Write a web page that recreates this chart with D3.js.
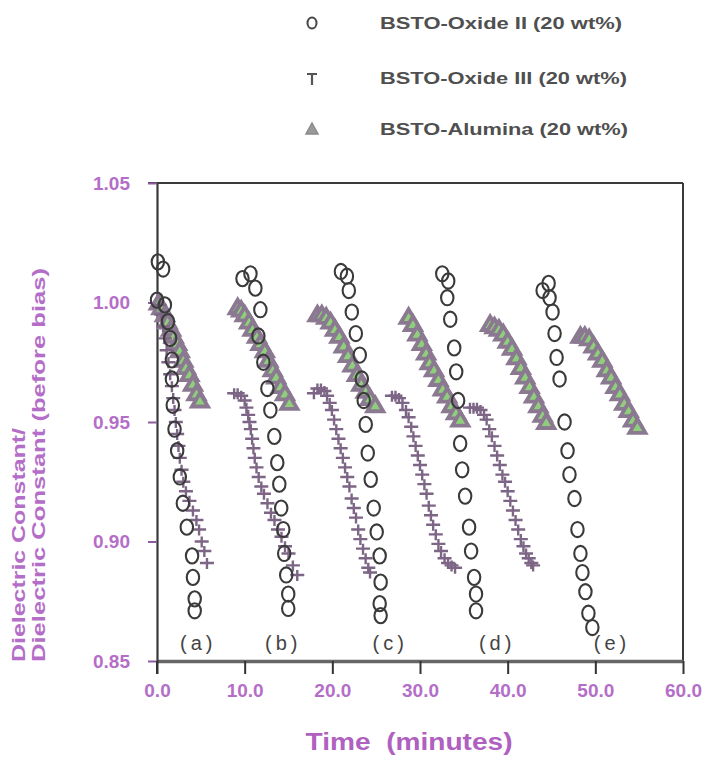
<!DOCTYPE html>
<html>
<head>
<meta charset="utf-8">
<script src="https://cdn.jsdelivr.net/npm/d3@7"></script>
<style>
	html, body { margin: 0; padding: 0; background: #fff; }
	svg { display: block; font-family: "Liberation Sans", Arial, sans-serif; }
</style>
</head>
<body>
<svg id="chart" width="705" height="758"></svg>
<script>
// [time (min), dielectric constant / dielectric constant before bias], one list per run
var oxideIIRuns = [
	[[0.1,1.017],[0.7,1.014],[0.0,1.001],[0.9,0.999],[1.25,0.992],[1.5,0.985],[1.7,0.976],[1.7,0.968],[1.8,0.957],[2.0,0.947],[2.3,0.938],[2.6,0.927],[2.95,0.916],[3.4,0.906],[4.0,0.894],[4.1,0.885],[4.3,0.876],[4.3,0.871]],
	[[9.75,1.010],[10.66,1.012],[11.22,1.006],[11.79,0.997],[11.56,0.986],[12.13,0.975],[12.59,0.964],[12.93,0.955],[13.38,0.944],[13.72,0.933],[13.95,0.924],[14.17,0.914],[14.4,0.905],[14.51,0.895],[14.74,0.886],[14.97,0.878],[14.97,0.872]],
	[[20.98,1.013],[21.66,1.011],[21.88,1.005],[22.22,0.996],[22.68,0.987],[23.13,0.978],[23.36,0.968],[23.58,0.959],[23.81,0.949],[24.04,0.937],[24.38,0.926],[24.72,0.914],[25.06,0.904],[25.4,0.894],[25.51,0.883],[25.4,0.874],[25.51,0.869]],
	[[32.54,1.012],[33.22,1.009],[33.11,1.002],[33.45,0.993],[33.9,0.981],[34.13,0.971],[34.35,0.959],[34.58,0.941],[34.81,0.930],[35.15,0.919],[35.6,0.906],[35.83,0.896],[36.17,0.885],[36.39,0.878],[36.39,0.871]],
	[[43.99,1.005],[44.67,1.008],[44.78,1.002],[45.12,0.996],[45.35,0.987],[45.58,0.977],[45.92,0.968],[46.49,0.950],[46.83,0.938],[47.05,0.928],[47.62,0.918],[47.96,0.905],[48.3,0.895],[48.53,0.887],[48.87,0.879],[49.21,0.870],[49.66,0.864]]
];

var oxideIIIRuns = [
	[[0.3,0.999],[0.5,0.995],[0.7,0.990],[0.9,0.985],[1.1,0.980],[1.3,0.975],[1.5,0.970],[1.7,0.965],[1.85,0.960],[2.0,0.955],[2.15,0.950],[2.3,0.945],[2.45,0.940],[2.6,0.935],[2.8,0.930],[3.0,0.925],[3.3,0.921],[3.7,0.917],[4.1,0.913],[4.5,0.909],[4.8,0.905],[5.1,0.900],[5.4,0.896],[5.7,0.891]],
	[[8.8,0.962],[9.2,0.962],[9.6,0.961],[10.0,0.959],[10.2,0.956],[10.4,0.953],[10.55,0.950],[10.7,0.947],[10.85,0.943],[11.0,0.939],[11.15,0.935],[11.35,0.931],[11.6,0.927],[11.9,0.923],[12.2,0.920],[12.6,0.916],[13.0,0.912],[13.4,0.909],[13.8,0.905],[14.2,0.902],[14.6,0.898],[15.0,0.895],[15.5,0.890],[16.0,0.886]],
	[[17.9,0.962],[18.3,0.964],[18.7,0.964],[19.1,0.963],[19.4,0.961],[19.7,0.958],[19.95,0.955],[20.2,0.951],[20.45,0.947],[20.7,0.943],[20.95,0.939],[21.2,0.935],[21.45,0.931],[21.7,0.927],[21.95,0.923],[22.2,0.918],[22.45,0.914],[22.7,0.910],[22.95,0.905],[23.2,0.901],[23.5,0.897],[23.8,0.893],[24.1,0.889],[24.3,0.887]],
	[[26.8,0.961],[27.2,0.961],[27.6,0.960],[28.0,0.958],[28.4,0.955],[28.7,0.952],[29.0,0.948],[29.25,0.944],[29.5,0.940],[29.75,0.936],[30.0,0.932],[30.25,0.928],[30.5,0.924],[30.75,0.920],[31.0,0.915],[31.25,0.911],[31.5,0.907],[31.8,0.903],[32.1,0.899],[32.4,0.896],[32.8,0.893],[33.2,0.891],[33.6,0.890],[34.0,0.889]],
	[[35.7,0.956],[36.1,0.956],[36.5,0.956],[36.9,0.955],[37.3,0.953],[37.6,0.951],[37.9,0.947],[38.2,0.944],[38.5,0.940],[38.8,0.936],[39.1,0.932],[39.4,0.928],[39.7,0.925],[40.0,0.921],[40.3,0.917],[40.6,0.913],[40.9,0.909],[41.2,0.905],[41.5,0.901],[41.8,0.898],[42.1,0.895],[42.4,0.893],[42.7,0.891],[42.9,0.890]]
];

var aluminaRuns = [
	[[0.2,1.000],[0.5,0.998],[0.9,0.995],[1.2,0.992],[1.6,0.989],[1.9,0.986],[2.3,0.983],[2.6,0.980],[3.0,0.976],[3.3,0.973],[3.7,0.970],[4.1,0.966],[4.5,0.962],[4.9,0.959]],
	[[9.2,0.998],[9.6,0.997],[10.0,0.995],[10.5,0.992],[10.9,0.989],[11.4,0.986],[11.8,0.983],[12.3,0.980],[12.7,0.976],[13.2,0.972],[13.6,0.969],[14.1,0.965],[14.6,0.962],[15.1,0.958]],
	[[18.3,0.995],[18.8,0.995],[19.3,0.994],[19.8,0.992],[20.3,0.989],[20.8,0.986],[21.3,0.982],[21.8,0.978],[22.3,0.974],[22.8,0.970],[23.3,0.966],[23.8,0.963],[24.3,0.960],[24.9,0.957]],
	[[28.7,0.994],[29.2,0.991],[29.7,0.987],[30.2,0.983],[30.7,0.979],[31.1,0.975],[31.6,0.972],[32.1,0.968],[32.6,0.964],[33.1,0.961],[33.6,0.957],[34.1,0.954],[34.6,0.951]],
	[[38.0,0.991],[38.5,0.990],[39.0,0.989],[39.5,0.987],[40.0,0.984],[40.5,0.981],[41.0,0.977],[41.5,0.973],[42.0,0.969],[42.5,0.965],[43.0,0.961],[43.5,0.957],[44.0,0.953],[44.4,0.950]],
	[[48.3,0.986],[48.8,0.986],[49.3,0.985],[49.8,0.982],[50.3,0.979],[50.8,0.976],[51.3,0.972],[51.8,0.969],[52.3,0.965],[52.8,0.962],[53.3,0.958],[53.8,0.955],[54.3,0.951],[54.8,0.948]]
];

var runLabels = ['(a)', '(b)', '(c)', '(d)', '(e)'];
var runLabelTimes = [4.7, 14.4, 26.6, 38.8, 51.9];
var legendNames = ['BSTO-Oxide II (20 wt%)', 'BSTO-Oxide III (20 wt%)', 'BSTO-Alumina (20 wt%)'];
var xTicks = [0, 10, 20, 30, 40, 50, 60];
var yTicks = [0.85, 0.90, 0.95, 1.00, 1.05];

var purple = '#b46ec8';
var svg = d3.select('#chart');

var x = d3.scaleLinear().domain([0, 60]).range([157, 683]);
var y = d3.scaleLinear().domain([0.85, 1.05]).range([661, 183]);

//////////////////////////////////////////////////
// frame (top + right)
//////////////////////////////////////////////////
svg.append('line')
	.attr('x1', x(0) - 9).attr('x2', x(60))
	.attr('y1', y(1.05)).attr('y2', y(1.05))
	.style('stroke', '#3a3a3a').style('stroke-width', 2);
svg.append('line')
	.attr('x1', x(60)).attr('x2', x(60))
	.attr('y1', y(1.05)).attr('y2', y(0.85))
	.style('stroke', '#3a3a3a').style('stroke-width', 2);

//////////////////////////////////////////////////
// axes
//////////////////////////////////////////////////
var xAxis = svg.append('g')
	.attr('transform', 'translate(0,' + y(0.85) + ')')
	.call(d3.axisBottom(x).tickValues(xTicks).tickSize(13).tickSizeOuter(0).tickPadding(10).tickFormat(d3.format('.1f')));
xAxis.select('.domain').style('stroke', '#666').style('stroke-width', 3.5);
xAxis.selectAll('.tick line').style('stroke', '#333').style('stroke-width', 2);
xAxis.selectAll('.tick text')
	.style('fill', purple).style('font-size', '19px').style('font-weight', 'bold')
	.style('font-family', '"Liberation Sans", Arial, sans-serif');

var yAxis = svg.append('g')
	.attr('transform', 'translate(' + x(0) + ',0)')
	.call(d3.axisLeft(y).tickValues(yTicks).tickSize(9).tickSizeOuter(0).tickPadding(18).tickFormat(d3.format('.2f')));
yAxis.select('.domain').style('stroke', '#3a3a3a').style('stroke-width', 2.2);
yAxis.selectAll('.tick line').style('stroke', '#8d5c9c').style('stroke-width', 2);
yAxis.selectAll('.tick text')
	.style('fill', purple).style('font-size', '19px').style('font-weight', 'bold')
	.style('font-family', '"Liberation Sans", Arial, sans-serif');

// left axis continues below the x axis like the 0.0 tick
svg.append('line')
	.attr('x1', x(0)).attr('x2', x(0))
	.attr('y1', y(0.85)).attr('y2', y(0.85) + 13)
	.style('stroke', '#333').style('stroke-width', 2);

//////////////////////////////////////////////////
// axis titles
//////////////////////////////////////////////////
svg.append('text')
	.attr('x', 409).attr('y', 750)
	.attr('text-anchor', 'middle')
	.attr('textLength', 207).attr('lengthAdjust', 'spacingAndGlyphs')
	.style('white-space', 'pre')
	.style('fill', '#b060c0').style('font-size', '24px').style('font-weight', 'bold')
	.text('Time  (minutes)');

[['Dielectric Constant/', 19, 234], ['Dielectric Constant (before bias)', 39, 394]].forEach(function(l) {
	svg.append('text')
		.attr('transform', 'translate(' + l[1] + ',662) rotate(-90)')
		.attr('dy', '0.35em')
		.attr('textLength', l[2]).attr('lengthAdjust', 'spacingAndGlyphs')
		.style('fill', purple).style('font-size', '18px').style('font-weight', 'bold')
		.text(l[0]);
});

//////////////////////////////////////////////////
// marks
//////////////////////////////////////////////////
var triPath = 'M0,-7.5L8,6L-8,6Z';
var crossPath = 'M-7,0H7M0,-5V6';

svg.append('g').selectAll('path')
	.data(d3.merge(aluminaRuns))
	.enter().append('path')
	.attr('d', triPath)
	.attr('transform', function(d) { return 'translate(' + x(d[0]) + ',' + y(d[1]) + ')'; })
	.style('fill', '#8fcf7c').style('stroke', '#8b7891').style('stroke-width', 3.8)
	.style('stroke-linejoin', 'miter');

svg.append('g').selectAll('path')
	.data(d3.merge(oxideIIIRuns))
	.enter().append('path')
	.attr('d', crossPath)
	.attr('transform', function(d) { return 'translate(' + x(d[0]) + ',' + y(d[1]) + ')'; })
	.style('fill', 'none').style('stroke', '#7d6586').style('stroke-width', 2.4);

svg.append('g').selectAll('ellipse')
	.data(d3.merge(oxideIIRuns))
	.enter().append('ellipse')
	.attr('cx', function(d) { return x(d[0]); })
	.attr('cy', function(d) { return y(d[1]); })
	.attr('rx', 6.2).attr('ry', 7.6)
	.style('fill', 'none').style('stroke', '#3a3a3a').style('stroke-width', 2.1);

// run labels
svg.append('g').selectAll('text')
	.data(runLabels)
	.enter().append('text')
	.attr('x', function(d, i) { return x(runLabelTimes[i]); })
	.attr('y', y(0.85) - 11)
	.attr('text-anchor', 'middle')
	.style('fill', '#444').style('font-size', '20px').style('letter-spacing', '4px')
	.text(function(d) { return d; });

//////////////////////////////////////////////////
// legend
//////////////////////////////////////////////////
var legendY = [23, 78, 129];
var legend = svg.append('g');
legend.append('ellipse')
	.attr('cx', 312).attr('cy', legendY[0]).attr('rx', 4.5).attr('ry', 5.5)
	.style('fill', 'none').style('stroke', '#444').style('stroke-width', 2);
legend.append('path')
	.attr('d', 'M-5,-4H5M0,-4V7')
	.attr('transform', 'translate(312,' + legendY[1] + ')')
	.style('fill', 'none').style('stroke', '#555').style('stroke-width', 2.2);
legend.append('path')
	.attr('d', 'M0,-6L6,5L-6,5Z')
	.attr('transform', 'translate(312,' + legendY[2] + ')')
	.style('fill', '#9a9a9a').style('stroke', '#8a8a8a').style('stroke-width', 1.5);

legend.selectAll('text')
	.data(legendNames)
	.enter().append('text')
	.attr('x', 380)
	.attr('y', function(d, i) { return legendY[i]; })
	.attr('dy', '0.35em')
	.attr('textLength', function(d, i) { return [242, 247, 248][i]; })
	.attr('lengthAdjust', 'spacingAndGlyphs')
	.style('fill', '#4f4f4f').style('font-size', '17px').style('font-weight', 'bold')
	.text(function(d) { return d; });
</script>
</body>
</html>
